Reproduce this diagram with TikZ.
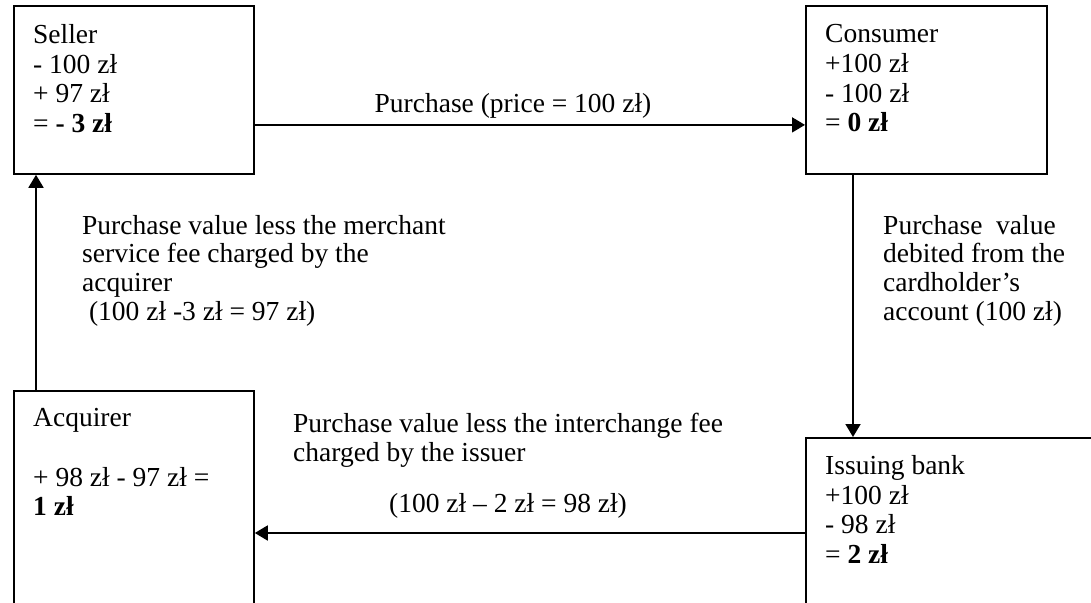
\documentclass[tikz,border=0pt]{standalone}
\usepackage{fontspec}
\setmainfont{Liberation Serif}
\usetikzlibrary{positioning,arrows.meta}

\begin{document}
\begin{tikzpicture}[
  x=1pt, y=-1pt,
  acct/.style={draw, line width=1.8pt, inner sep=0pt, anchor=north west},
  ledger/.style={inner sep=0pt, align=left, font=\fontsize{27.5}{29.8}\selectfont},
  note/.style={inner sep=0pt, align=left, font=\fontsize{27.5}{28.6}\selectfont},
  flow/.style={line width=1.8pt, -{Triangle[length=13pt,width=15pt]}}
]
  \clip (0,0) rectangle (1091,602);
  \fill[white] (0,0) rectangle (1091,602);

  % the four parties
  \node[acct, minimum width=240pt, minimum height=168pt] (seller) at (13,5) {};
  \node[acct, minimum width=241pt, minimum height=168pt] (consumer) at (805,5) {};
  \node[acct, minimum width=240pt, minimum height=260pt] (acquirer) at (13,390) {};
  \node[acct, minimum width=300pt, minimum height=200pt] (issuing) at (805,437) {};

  % their balances
  \node[ledger, below right=19pt and 20pt of seller.north west] (sellertxt)
    {Seller\\- 100 zł\\+ 97 zł\\= \textbf{- 3 zł}};
  \node[ledger, below right=19pt and 20pt of consumer.north west] (consumertxt)
    {Consumer\\+100 zł\\- 100 zł\\= \textbf{0 zł}};
  \node[ledger, below right=18pt and 20pt of acquirer.north west] (acquirertxt)
    {Acquirer\\[29.8pt]+ 98 zł - 97 zł =\\\textbf{1 zł}};
  \node[ledger, below right=18pt and 20pt of issuing.north west] (issuingtxt)
    {Issuing bank\\+100 zł\\- 98 zł\\= \textbf{2 zł}};

  % flows of money
  \draw[flow] ([yshift=-35pt]seller.east) -- ([yshift=-35pt]consumer.west);
  \draw[flow] ([xshift=48pt]consumer.south west) -- ([xshift=48pt]issuing.north west);
  \draw[flow] ([yshift=-96pt]issuing.north west) -- ([yshift=-143pt]acquirer.north east);
  \draw[flow] ([xshift=23pt]acquirer.north west) -- ([xshift=23pt]seller.south west);

  % labels
  \node[note, anchor=base] (pricelbl) at (513,112) {Purchase (price = 100 zł)};
  \node[note, anchor=north west] (msflbl) at (82,215)
    {Purchase value less the merchant\\service fee charged by the\\acquirer\\\hspace{0.25em}(100 zł -3 zł = 97 zł)};
  \node[note, anchor=north west] (debitlbl) at (883,215)
    {Purchase\ \ value\\debited from the\\cardholder’s\\account (100 zł)};
  \node[note, anchor=north west] (ifeelbl) at (293,413)
    {Purchase value less the interchange fee\\charged by the issuer};
  \node[note, anchor=base] (ifeecalc) at (508,512) {(100 zł – 2 zł = 98 zł)};
\end{tikzpicture}
\end{document}
